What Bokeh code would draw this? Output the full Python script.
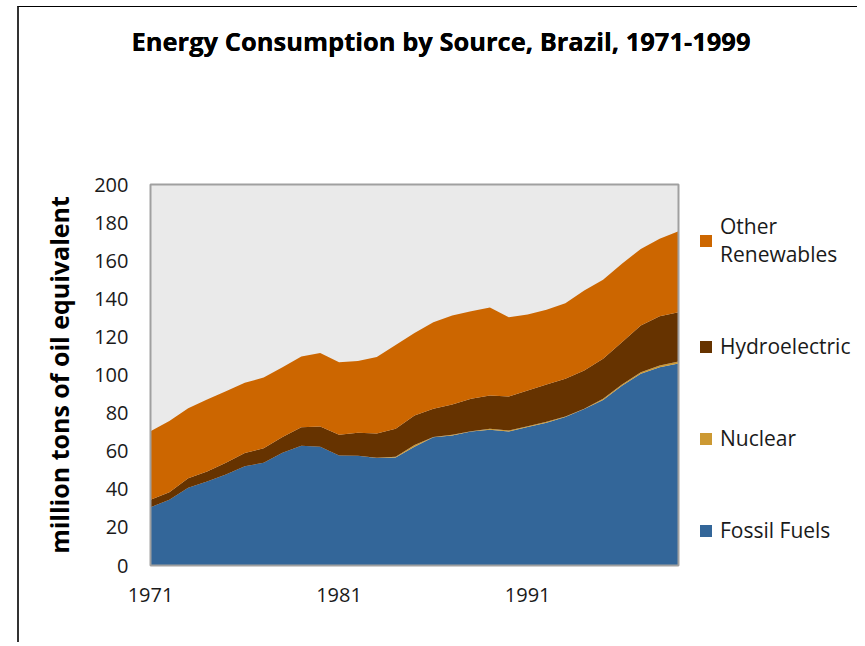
from bokeh.plotting import figure
from bokeh.models import ColumnDataSource, Range1d, FixedTicker, Legend, LegendItem, Title
from bokeh.embed import file_html
from bokeh.resources import INLINE

years = list(range(1971, 2000))
fossil = [30.6, 34.5, 40.8, 44.1, 47.8, 52.1, 53.9, 59.2, 62.8, 62.3, 57.7, 57.6, 56.4, 56.7, 62.4,
          67.3, 68.3, 70.3, 71.3, 70.3, 72.7, 74.9, 78.0, 82.2, 86.9, 94.4, 100.7, 104.1, 106.1]
nuclear = [0.0, 0.0, 0.0, 0.0, 0.0, 0.0, 0.0, 0.0, 0.0, 0.0, 0.0, 0.0, 0.1, 0.4, 0.8,
           0.1, 0.3, 0.2, 0.5, 0.6, 0.4, 0.5, 0.2, 0.1, 0.6, 0.6, 0.8, 0.9, 1.0]
hydro = [3.9, 4.0, 5.0, 5.2, 6.1, 6.9, 7.7, 8.3, 9.8, 10.7, 10.9, 12.1, 12.8, 14.7, 15.5,
         14.9, 15.9, 17.0, 17.4, 17.8, 18.8, 19.6, 19.8, 20.1, 21.0, 22.2, 24.5, 25.9, 25.9]
other = [36.0, 37.3, 36.8, 37.8, 37.6, 36.9, 37.1, 36.6, 37.1, 38.6, 38.1, 37.7, 40.1, 44.0, 43.3,
         45.4, 46.7, 46.0, 46.2, 41.6, 39.9, 39.2, 39.7, 42.0, 41.5, 41.2, 40.2, 40.6, 42.5]

series_names = ["Fossil Fuels", "Nuclear", "Hydroelectric", "Other\nRenewables"]
series_keys = ["fossil", "nuclear", "hydro", "other"]
colors = ["#336699", "#CC9933", "#663300", "#CC6600"]

x_ticks = [1971, 1981, 1991]
y_ticks = [0, 20, 40, 60, 80, 100, 120, 140, 160, 180, 200]

source = ColumnDataSource(dict(year=years, fossil=fossil, nuclear=nuclear, hydro=hydro, other=other))

FONT = "Open Sans"
TXT = "#1a1a1a"

# ---- layout (pixels) ----
W, H = 840, 636
BORDER_L, BORDER_T, BORDER_B = 129, 175, 76
PLOT_W, PLOT_H, PAD = 528, 381, 2          # grey plot area size inside the (wider) frame
FRAME_W = W - BORDER_L
ppx = PLOT_W / (years[-1] - years[0])
ppy = PLOT_H / (y_ticks[-1] - y_ticks[0])
x_range = Range1d(years[0] - PAD / ppx, years[0] + (FRAME_W - PAD) / ppx)
y_range = Range1d(y_ticks[0] - PAD / ppy, y_ticks[-1] + PAD / ppy)

p = figure(width=W, height=H, output_backend="svg", toolbar_location=None,
           x_range=x_range, y_range=y_range,
           min_border_left=BORDER_L, min_border_right=0, min_border_top=BORDER_T,
           min_border_bottom=BORDER_B,
           background_fill_color="white", border_fill_color="white",
           outline_line_color=None,
           styles={"border-left": "2px solid #333333", "border-top": "1px solid #000000",
                   "position": "relative", "left": "17px", "top": "6px"})

# title, pushed up by a spacer panel between it and the plot
title = p.title
title.text = "Energy Consumption by Source, Brazil, 1971-1999"
title.align = "left"
title.offset = -17
title.text_font = FONT
title.text_font_size = "25.5px"
title.text_font_style = "bold"
title.text_color = "#000000"
title.standoff = 10
spacer = Title(text=" ", text_font_size="1px", standoff=71)
p.above = [spacer, title]

# grey plot area with border
area_box = dict(left=years[0], right=years[-1], bottom=y_ticks[0], top=y_ticks[-1])
p.quad(**area_box, fill_color="#EAEAEA", line_color=None)
renderers = p.varea_stack(series_keys, x="year", color=colors, source=source)
p.quad(**area_box, fill_color=None, line_color="#A0A0A0", line_width=2)

p.xgrid.visible = False
p.ygrid.visible = False

p.yaxis.ticker = FixedTicker(ticks=y_ticks)
p.xaxis.ticker = FixedTicker(ticks=x_ticks)

for ax in (p.xaxis[0], p.yaxis[0]):
    ax.axis_line_color = None
    ax.major_tick_line_color = None
    ax.minor_tick_line_color = None
    ax.major_label_text_font = FONT
    ax.major_label_text_font_size = "20px"
    ax.major_label_text_color = TXT

p.yaxis.major_label_standoff = 14
p.xaxis.major_label_standoff = 14
p.yaxis.axis_label = "million tons of oil equivalent"
p.yaxis.axis_label_text_font = FONT
p.yaxis.axis_label_text_font_size = "25px"
p.yaxis.axis_label_text_font_style = "bold"
p.yaxis.axis_label_text_color = "#000000"
p.yaxis.axis_label_standoff = 15

items = [LegendItem(label=series_names[i], renderers=[renderers[i]]) for i in (3, 2, 1, 0)]
legend = Legend(items=items, location=(PAD + PLOT_W + 20, 23), orientation="vertical",
                glyph_width=15, glyph_height=15, label_standoff=7, spacing=64,
                padding=0, margin=0, border_line_color=None, background_fill_alpha=0,
                label_text_font=FONT, label_text_font_size="21px", label_text_color=TXT)
p.add_layout(legend, "center")

open("out.html", "w").write(file_html(p, INLINE))
